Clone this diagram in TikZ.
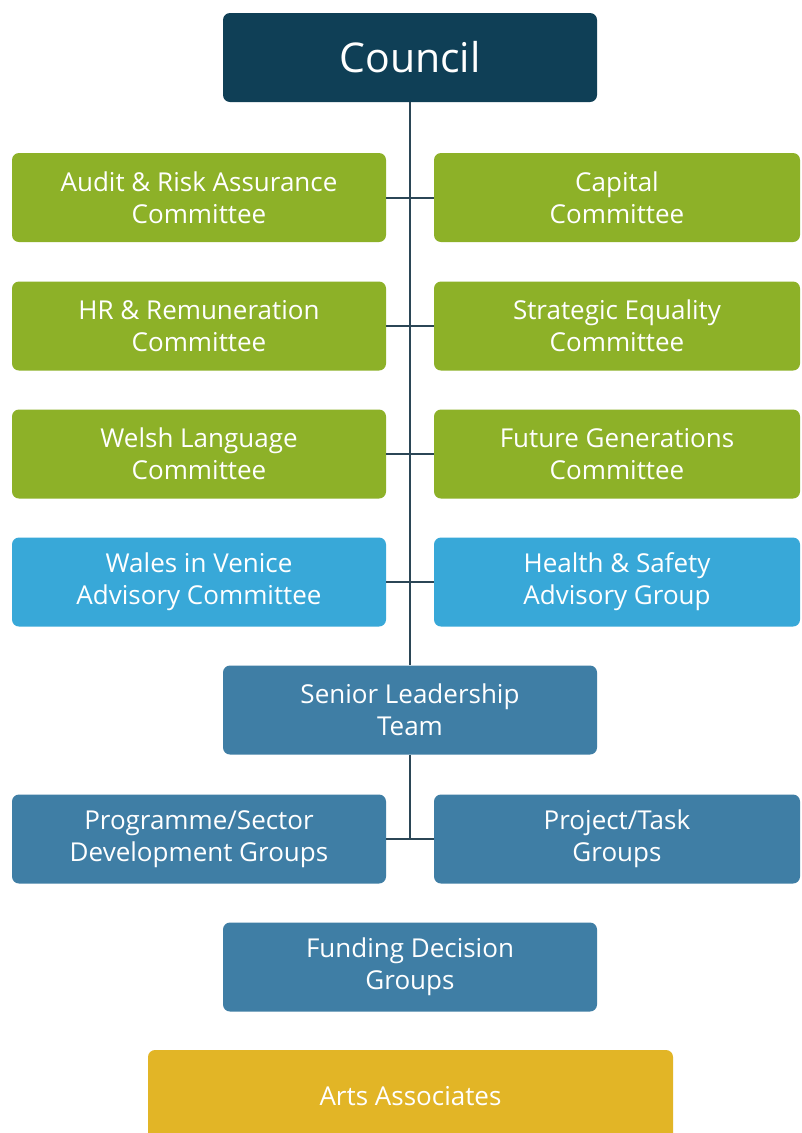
\documentclass[tikz,border=0pt]{standalone}
\usepackage{fontspec}
\setmainfont{Open Sans}
\definecolor{councilc}{HTML}{0F3F56}
\definecolor{greenc}{HTML}{8DB128}
\definecolor{lightbluec}{HTML}{38A8D8}
\definecolor{steelc}{HTML}{3F7EA5}
\definecolor{yellowc}{HTML}{E2B526}
\definecolor{linec}{HTML}{2B4656}
\begin{document}
\begin{tikzpicture}[x=1pt,y=-1pt,
  box/.style={rounded corners=7pt, text=white, align=center, inner sep=0pt,
    minimum height=89pt, font=\fontsize{26}{32}\selectfont},
  sidel/.style={box, minimum width=374pt},
  sider/.style={box, minimum width=366pt},
  mid/.style={box, minimum width=374pt},
  conn/.style={draw=linec, line width=2pt}]
\clip (0,0) rectangle (802,1133);
\fill[white] (0,0) rectangle (802,1133);
% nodes
\node[mid, fill=councilc, font=\fontsize{41}{44}\selectfont] (council) at (410,57.5) {Council};
\node[sidel, fill=greenc] (l1) at (199,197.5) {Audit \& Risk Assurance\\Committee};
\node[sider, fill=greenc] (r1) at (617,197.5) {Capital\\Committee};
\node[sidel, fill=greenc] (l2) at (199,326) {HR \& Remuneration\\Committee};
\node[sider, fill=greenc] (r2) at (617,326) {Strategic Equality\\Committee};
\node[sidel, fill=greenc] (l3) at (199,454) {Welsh Language\\Committee};
\node[sider, fill=greenc] (r3) at (617,454) {Future Generations\\Committee};
\node[sidel, fill=lightbluec] (l4) at (199,582) {Wales in Venice\\Advisory Committee};
\node[sider, fill=lightbluec] (r4) at (617,582) {Health \& Safety\\Advisory Group};
\node[mid, fill=steelc] (slt) at (410,710) {Senior Leadership\\Team};
\node[sidel, fill=steelc] (l6) at (199,839) {Programme/Sector\\Development Groups};
\node[sider, fill=steelc] (r6) at (617,839) {Project/Task\\Groups};
\node[mid, fill=steelc] (fdg) at (410,967) {Funding Decision\\Groups};
\node[box, fill=yellowc, minimum width=525pt, minimum height=92pt] (arts) at (410.5,1096) {Arts Associates};
% connectors
\draw[conn] (council.south) -- (slt.north);
\draw[conn] (l1.east) -- (r1.west);
\draw[conn] (l2.east) -- (r2.west);
\draw[conn] (l3.east) -- (r3.west);
\draw[conn] (l4.east) -- (r4.west);
\coordinate (j6) at (slt.south |- l6.east);
\draw[conn] (slt.south) -- (j6);
\draw[conn] (l6.east) -- (r6.west);
\end{tikzpicture}
\end{document}
